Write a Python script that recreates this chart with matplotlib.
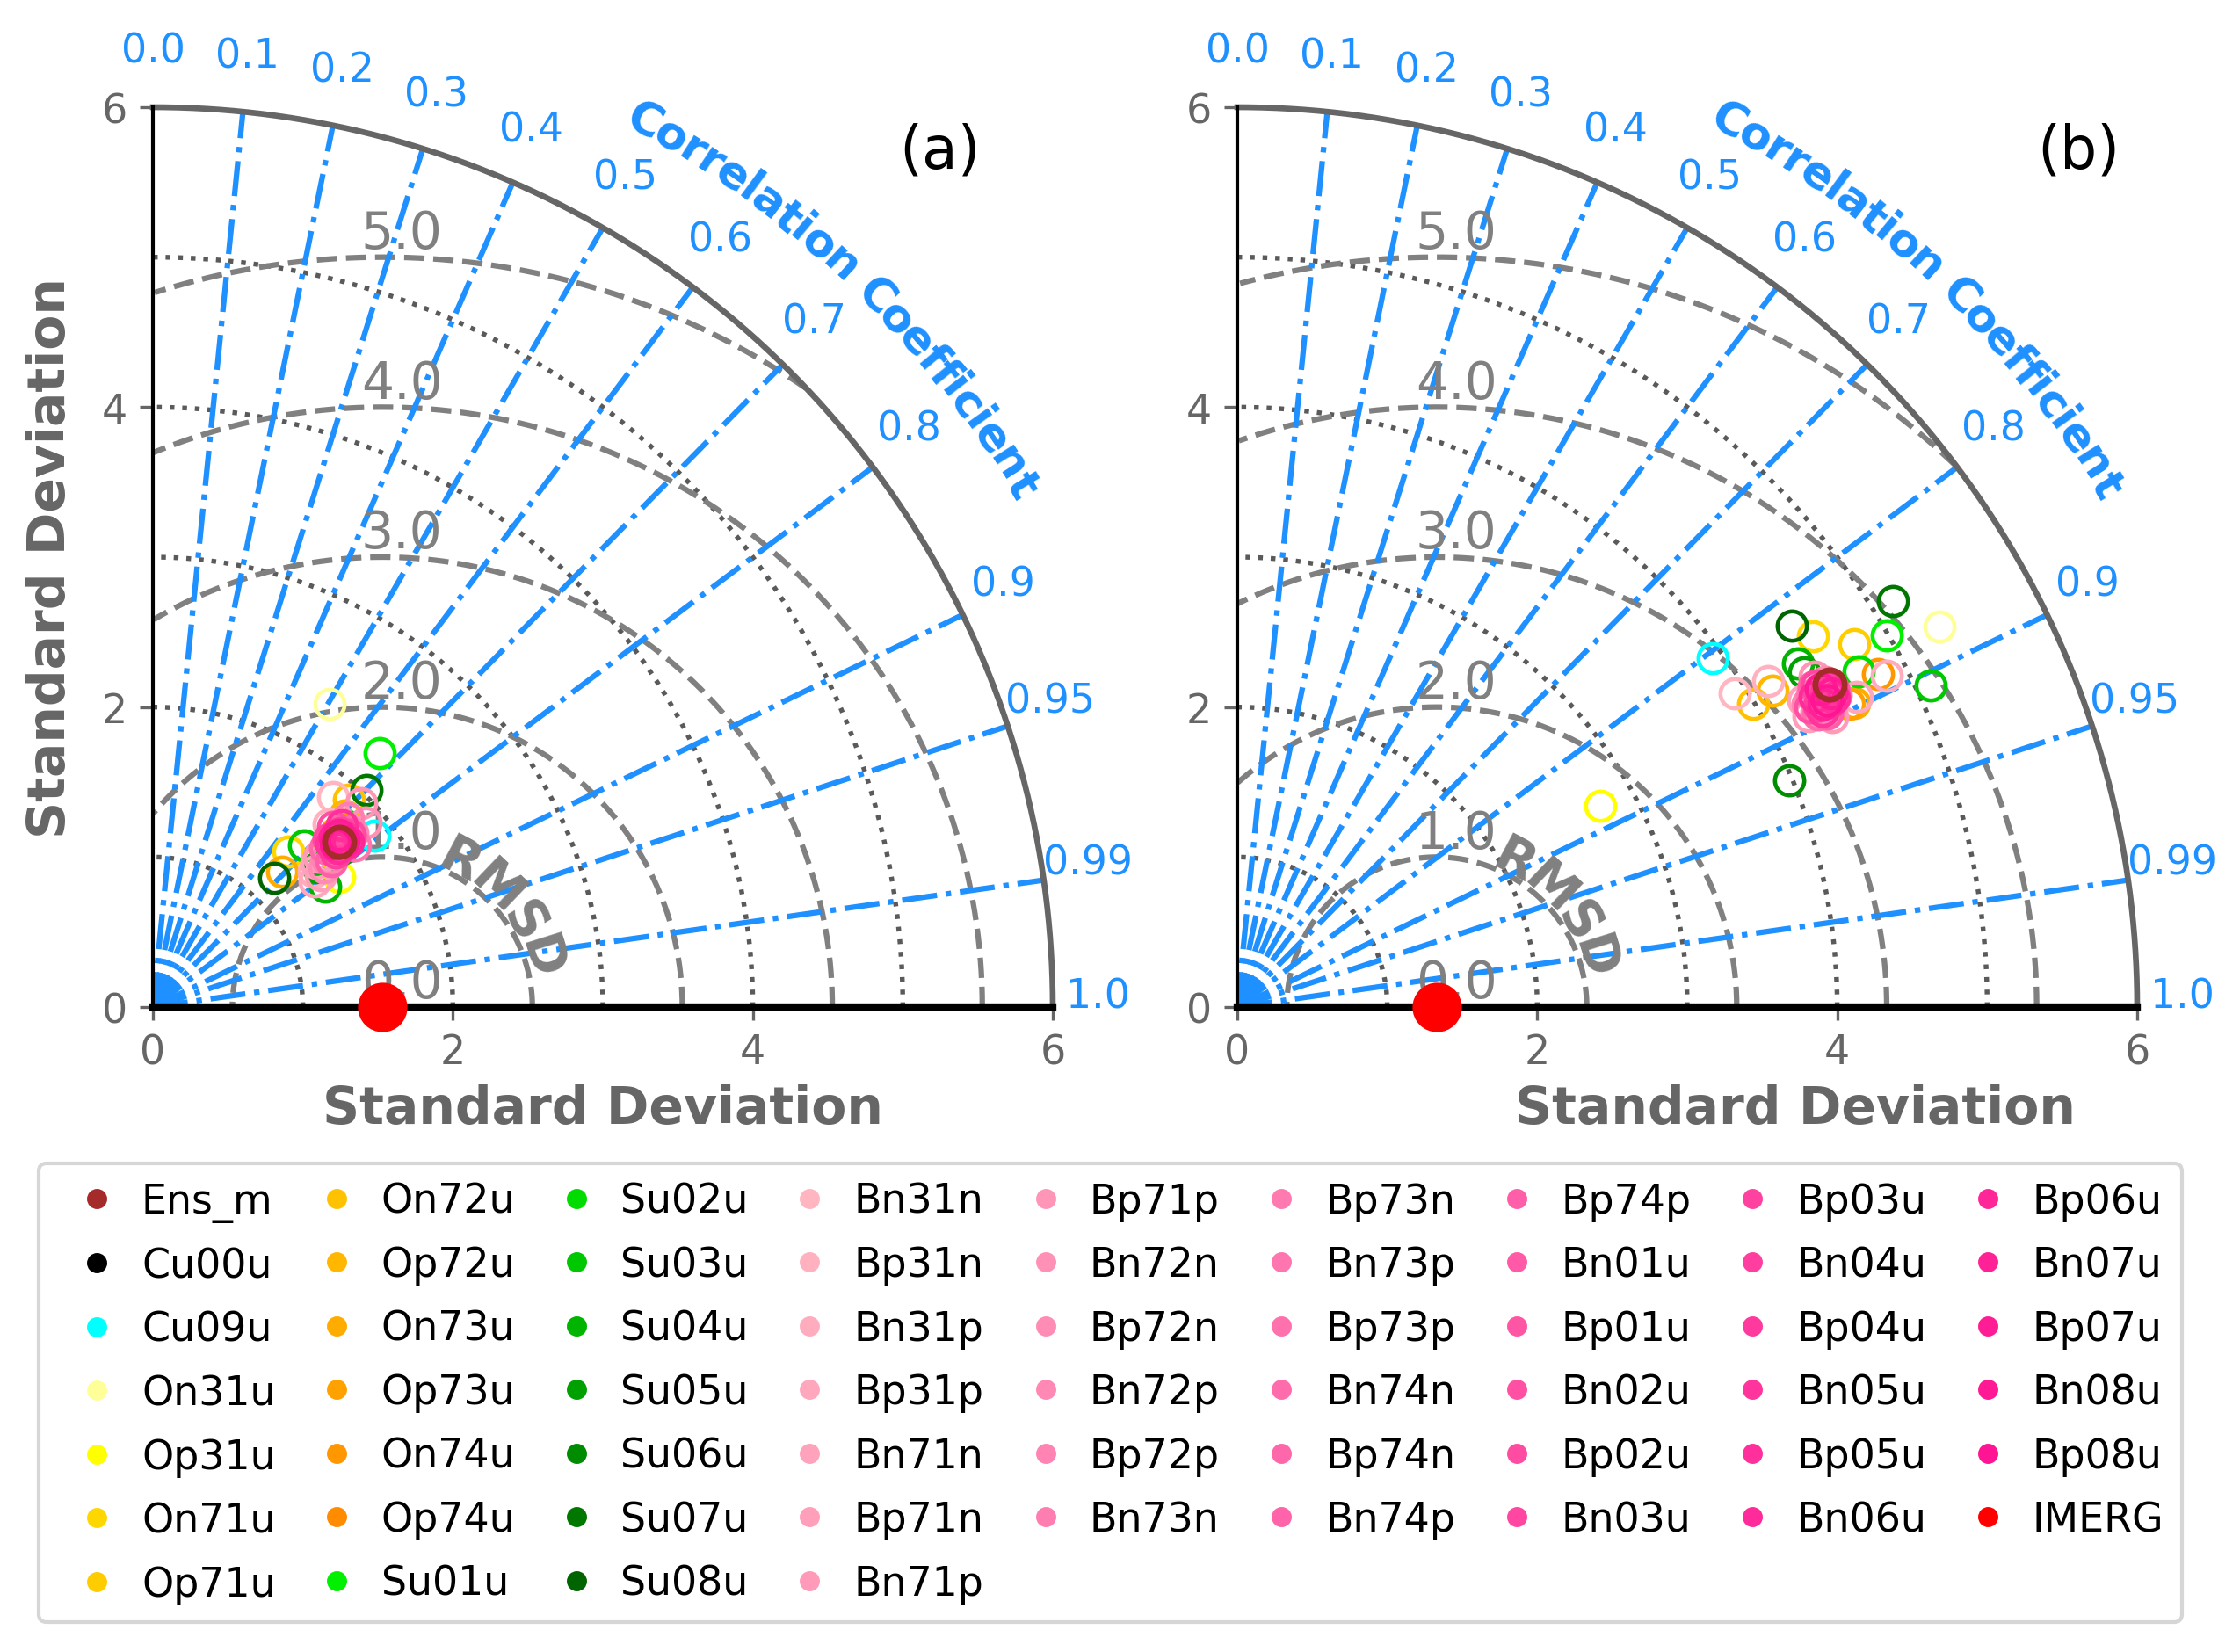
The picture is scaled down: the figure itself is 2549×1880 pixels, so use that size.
import numpy as np
import matplotlib
matplotlib.use("Agg")
import matplotlib.pyplot as plt
from matplotlib.lines import Line2D
from matplotlib.font_manager import FontProperties

plt.rcParams['font.family'] = ['DejaVu Sans']

# ---------------- data ----------------
models = ["Ens_m", "Cu00u", "Cu09u", "On31u", "Op31u", "On71u", "Op71u",
          "On72u", "Op72u", "On73u", "Op73u", "On74u", "Op74u",
          "Su01u", "Su02u", "Su03u", "Su04u", "Su05u", "Su06u", "Su07u", "Su08u",
          "Bn31n", "Bp31n", "Bn31p", "Bp31p", "Bn71n", "Bp71n", "Bn71p", "Bp71p",
          "Bn72n", "Bp72n", "Bn72p", "Bp72p", "Bn73n", "Bp73n", "Bn73p", "Bp73p",
          "Bn74n", "Bp74n", "Bn74p", "Bp74p",
          "Bn01u", "Bp01u", "Bn02u", "Bp02u", "Bn03u", "Bp03u", "Bn04u", "Bp04u",
          "Bn05u", "Bp05u", "Bn06u", "Bp06u", "Bn07u", "Bp07u", "Bn08u", "Bp08u",
          "IMERG"]

# panel (a): standard deviation and correlation of each model
std_a = [1.658, 1.608, 1.868, 2.339, 1.515, 1.375, 1.583,
         1.903, 1.810, 1.245, 1.683, 1.756, 1.579,
         2.270, 1.761, 1.479, 1.401, 1.440, 1.632, 2.030, 1.181,
         1.844, 1.690, 1.398, 1.368, 1.452, 1.424, 1.494, 1.945,
         1.879, 1.471, 1.765, 1.525, 1.810, 1.627, 1.729, 1.602,
         1.726, 1.564, 1.708, 1.535,
         1.670, 1.667, 1.697, 1.743, 1.620, 1.705, 1.597, 1.707,
         1.614, 1.747, 1.624, 1.703, 1.656, 1.691, 1.687, 1.636,
         1.53]
cor_a = [0.748, 0.746, 0.792, 0.504, 0.819, 0.655, 0.764,
         0.688, 0.707, 0.691, 0.725, 0.740, 0.741,
         0.667, 0.721, 0.683, 0.821, 0.764, 0.766, 0.700, 0.686,
         0.651, 0.692, 0.765, 0.789, 0.751, 0.786, 0.743, 0.715,
         0.756, 0.775, 0.754, 0.761, 0.718, 0.725, 0.781, 0.755,
         0.730, 0.735, 0.755, 0.775,
         0.731, 0.762, 0.707, 0.752, 0.722, 0.733, 0.764, 0.750,
         0.737, 0.721, 0.757, 0.763, 0.731, 0.733, 0.753, 0.746,
         1.0]

# panel (b)
std_b = [4.497, 4.420, 3.934, 5.325, 2.766, 4.566, 4.770,
         3.989, 4.147, 4.584, 4.553, 4.813, 4.374,
         4.990, 4.707, 5.096, 4.385, 4.389, 3.978, 5.142, 4.488,
         3.923, 4.157, 4.861, 4.620, 4.291, 4.275, 4.414, 4.434,
         4.334, 4.481, 4.304, 4.414, 4.421, 4.500, 4.358, 4.419,
         4.334, 4.482, 4.396, 4.392,
         4.402, 4.501, 4.312, 4.434, 4.418, 4.441, 4.370, 4.461,
         4.374, 4.482, 4.371, 4.484, 4.401, 4.478, 4.430, 4.433,
         1.33]
cor_b = [0.878, 0.882, 0.806, 0.879, 0.875, 0.841, 0.862,
         0.862, 0.861, 0.897, 0.896, 0.887, 0.887,
         0.868, 0.880, 0.907, 0.853, 0.861, 0.925, 0.850, 0.824,
         0.846, 0.852, 0.891, 0.894, 0.879, 0.891, 0.899, 0.868,
         0.891, 0.875, 0.883, 0.893, 0.878, 0.887, 0.879, 0.887,
         0.893, 0.883, 0.874, 0.895,
         0.884, 0.882, 0.886, 0.882, 0.874, 0.889, 0.888, 0.881,
         0.892, 0.888, 0.881, 0.879, 0.888, 0.884, 0.878, 0.887,
         1.0]

corr_ticks = [0.1, 0.2, 0.3, 0.4, 0.5, 0.6, 0.7, 0.8, 0.9, 0.95, 0.99]
corr_label_vals = [0.0, 0.1, 0.2, 0.3, 0.4, 0.5, 0.6, 0.7, 0.8, 0.9, 0.95, 0.99, 1.0]
rms_ticks = [1.0, 2.0, 3.0, 4.0, 5.0]
rms_label_vals = [0.0, 1.0, 2.0, 3.0, 4.0, 5.0]
std_arcs = [1.0, 2.0, 3.0, 4.0, 5.0]
std_ticks = [0, 2, 4, 6]
std_max = 6.0
panel_tags = ["(a)", "(b)"]

# ---------------- colours ----------------
def ramp(c1, c2, n):
    c1 = np.array(c1, float); c2 = np.array(c2, float)
    return [tuple((c1 + (c2 - c1) * i / (n - 1)) / 255.0) for i in range(n)]

colors = (['#A52A2A', '#000000', '#00FFFF', '#FFFF99', '#FFFF00']
          + ramp((255, 215, 0), (255, 140, 0), 8)
          + ramp((0, 240, 0), (0, 100, 0), 8)
          + ramp((255, 182, 193), (255, 20, 147), 36)
          + ['#FF0000'])

BLUE = '#1E90FF'
GRAY_T = '#666666'
GRAY_D = '#808080'
GRAY_S = '#5a5a5a'

W, H = 2549, 1881
fig = plt.figure(figsize=(W / 300, H / 300), dpi=300)
renderer = fig.canvas.get_renderer()


def px_to_axes_rect(x0, y0, w, h):
    return [x0 / W, 1 - (y0 + h) / H, w / W, h / H]


def curved_text(ax, text, cx, cy, r, a0, a1, fp, color):
    w0 = renderer.get_text_width_height_descent('||', fp, ismath=False)[0]
    adv = [renderer.get_text_width_height_descent('|' + ch + '|', fp, ismath=False)[0] - w0
           for ch in text]
    adv = np.array(adv)
    centers = np.cumsum(adv) - adv / 2
    frac = (centers - centers[0]) / (centers[-1] - centers[0])
    for ch, f in zip(text, frac):
        if ch == ' ':
            continue
        a = np.deg2rad(a0 + (a1 - a0) * f)
        ax.text(cx + r * np.cos(a), cy + r * np.sin(a), ch, rotation=np.rad2deg(a) - 90,
                rotation_mode='anchor', ha='center', va='center', fontproperties=fp,
                color=color, clip_on=False, zorder=6)


def taylor(ax, stds, cors, tag, tag_xy, xlabel_x, ylabel):
    stds = np.asarray(stds); cors = np.asarray(cors)
    xs = stds * cors
    ys = stds * np.sqrt(np.clip(1 - cors ** 2, 0, None))
    ref = stds[-1]

    ax.set_xlim(0, std_max)
    ax.set_ylim(0, std_max)
    for s in ['top', 'right']:
        ax.spines[s].set_visible(False)
    ax.spines['left'].set_color('black')
    ax.spines['left'].set_linewidth(1.0)
    ax.spines['bottom'].set_color('black')
    ax.spines['bottom'].set_linewidth(2.0)
    ax.spines['left'].set_zorder(7)
    ax.spines['bottom'].set_zorder(7)
    ax.set_xticks(std_ticks)
    ax.set_yticks(std_ticks)
    ax.tick_params(colors=GRAY_T, labelsize=11, width=0.8)

    # std arcs (dotted) and outer arc
    th = np.linspace(0, np.pi / 2, 400)
    for r in std_arcs:
        ax.plot(r * np.cos(th), r * np.sin(th), ':', color=GRAY_S, lw=1.3, zorder=2)
    ax.plot(std_max * np.cos(th), std_max * np.sin(th), '-', color=GRAY_T, lw=1.6, zorder=3,
            clip_on=False)

    # correlation rays
    for c in corr_ticks:
        s = np.sqrt(1 - c ** 2)
        ax.plot([0, std_max * c], [0, std_max * s], '-.', color=BLUE, lw=1.5, zorder=2.5)
    for c in corr_label_vals:
        s = np.sqrt(1 - c ** 2)
        ax.text(1.05 * std_max * c, 1.05 * std_max * s, f"{c:g}" if c not in (0.0, 1.0) else f"{c:.1f}",
                ha='center', va='baseline', color=BLUE, fontsize=11, clip_on=False)

    # RMSD circles (dashed) centred on the reference
    tt = np.linspace(0, np.pi, 800)
    for r in rms_ticks:
        cx = ref + r * np.cos(tt)
        cy = r * np.sin(tt)
        ok = (cx >= 0) & (np.hypot(cx, cy) <= std_max)
        cx = np.where(ok, cx, np.nan); cy = np.where(ok, cy, np.nan)
        ax.plot(cx, cy, '--', color=GRAY_D, lw=1.5, zorder=2.2)
    for r in rms_label_vals:
        ax.text(ref + 0.13, r + 0.16, f"{r:.1f}", ha='center', va='center', fontsize=14,
                color=GRAY_D, zorder=4)

    # titles
    fpb = FontProperties(family='DejaVu Sans', weight='bold', size=12.5)
    curved_text(ax, "Correlation Coefficient", 0, 0, 6.75, 61.0, 31.0, fpb, BLUE)
    fpr = FontProperties(family='DejaVu Sans', weight='bold', size=14)
    curved_text(ax, "RMSD", ref, 0, 1.1, 62.0, 17.5, fpr, GRAY_D)

    # model markers
    for i in range(1, len(models) - 1):
        ax.plot(xs[i], ys[i], 'o', mfc='none', mec=colors[i], ms=8, mew=1.1, zorder=5)
    ax.plot(xs[0], ys[0], 'o', mfc='none', mec=colors[0], ms=8, mew=1.6, zorder=5.5)
    ax.plot(xs[-1], ys[-1], 'o', color=colors[-1], ms=12.5, zorder=8, clip_on=False)

    ax.text(tag_xy[0], tag_xy[1], tag, ha='center', va='center', fontsize=16, color='black')
    ax.text(xlabel_x, -0.113, "Standard Deviation", transform=ax.transAxes, ha='center',
            va='center', fontsize=14, fontweight='bold', color=GRAY_T)
    if ylabel:
        ax.text(-0.114, 0.5, "Standard Deviation", transform=ax.transAxes, ha='center',
                va='center', rotation=90, fontsize=14, fontweight='bold', color=GRAY_T)


ax1 = fig.add_axes(px_to_axes_rect(174, 123, 1024, 1024))
ax2 = fig.add_axes(px_to_axes_rect(1408, 123, 1024, 1024))
taylor(ax1, std_a, cor_a, panel_tags[0], (5.25, 5.71), 0.5, True)
taylor(ax2, std_b, cor_b, panel_tags[1], (5.61, 5.71), 0.62, False)

handles = [Line2D([], [], ls='', marker='o', color=c, ms=4.5) for c in colors]
fig.legend(handles, models, ncol=9, loc='upper left', bbox_to_anchor=(44 / W, 1 - 1325 / H),
           borderaxespad=0, borderpad=0.45, fontsize=11, handlelength=2.0, handletextpad=0.1,
           columnspacing=0.52, labelspacing=0.6, frameon=True)

fig.savefig("out.png", dpi=300)
